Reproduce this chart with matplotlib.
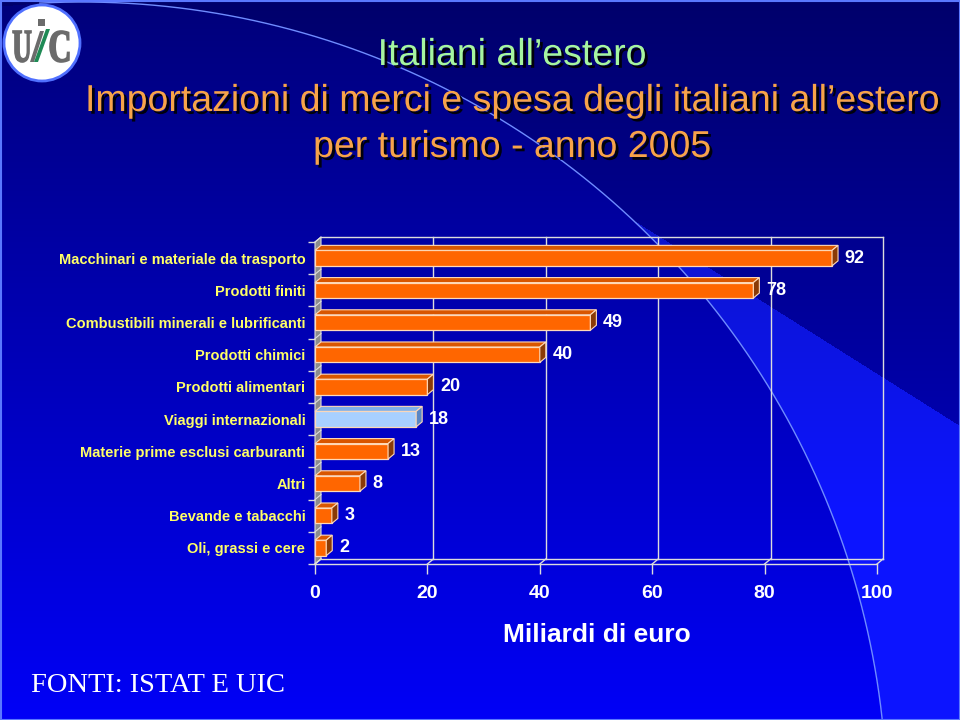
import matplotlib
matplotlib.use("Agg")
import matplotlib.pyplot as plt
import matplotlib.patheffects as pe
from matplotlib.patches import Polygon, Circle, Rectangle, PathPatch
from matplotlib.textpath import TextPath
from matplotlib.font_manager import FontProperties
from matplotlib.transforms import Affine2D
from matplotlib import font_manager
import numpy as np

# -----------------------------
# Data
# -----------------------------
categories = [
    "Macchinari e materiale da trasporto",
    "Prodotti finiti",
    "Combustibili minerali e lubrificanti",
    "Prodotti chimici",
    "Prodotti alimentari",
    "Viaggi internazionali",
    "Materie prime esclusi carburanti",
    "Altri",
    "Bevande e tabacchi",
    "Oli, grassi e cere",
]
values = [92, 78, 49, 40, 20, 18, 13, 8, 3, 2]
highlight = "Viaggi internazionali"
x_ticks = [0, 20, 40, 60, 80, 100]

title_1 = "Italiani all\u2019estero"
title_2 = "Importazioni di merci e spesa degli italiani all\u2019estero"
title_3 = "per turismo - anno 2005"
x_label = "Miliardi di euro"
source = "FONTI: ISTAT E UIC"


def has_font(name):
    try:
        font_manager.findfont(name, fallback_to_default=False)
        return True
    except Exception:
        return False


NARROW = "Liberation Sans Narrow" if has_font("Liberation Sans Narrow") else "Liberation Sans"
SERIF = "Liberation Serif"

W, H = 960, 720
fig = plt.figure(figsize=(W / 100, H / 100), dpi=100)

# -----------------------------
# Slide background
# -----------------------------
bg = fig.add_axes([0, 0, 1, 1])
bg.set_xlim(0, W)
bg.set_ylim(H, 0)
bg.axis("off")

yy, xx = np.mgrid[0:H, 0:W]
blue = 122 + 125 * (yy / H)
img = np.zeros((H, W, 3))
img[..., 2] = blue
cx, cy, rad = 82, 807, 805
outside = (xx - cx) ** 2 + (yy - cy) ** 2 > rad ** 2
below = (yy > 228 + 0.63 * (xx - 646)) & (xx > 600)
dark = outside & ~below
img[dark, 2] = blue[dark] * 0.88
band = outside & below
img[band, 0] = 12
img[band, 1] = 20
img[band, 2] = np.minimum(blue[band] + 45, 255)
bg.imshow(img / 255, extent=(0, W, H, 0), aspect="auto", zorder=0)

theta = np.radians(np.linspace(-93, -3, 300))
bg.plot(cx + rad * np.cos(theta), cy + rad * np.sin(theta), color="#6f8cff", lw=1.0, zorder=1)
bg.add_patch(Rectangle((0.5, 0.5), W - 1, H - 1, fill=False, ec="#5a78ff", lw=1.5, zorder=2))


# logo
def glyph(ch, x, y, w, h, color):
    tp = TextPath((0, 0), ch, size=10, prop=FontProperties(family=SERIF, weight="bold"))
    ext = tp.get_extents()
    tr = (Affine2D().translate(-ext.x0, -ext.y0)
          .scale(w / ext.width, -h / ext.height).translate(x, y + h))
    bg.add_patch(PathPatch(tr.transform_path(tp), fc=color, ec=color, lw=1.2, zorder=4))


bg.add_patch(Circle((42, 43), 38, fc="white", ec="#5070ff", lw=2, zorder=3))
glyph("U", 13, 31, 18, 31, "#6b6b6b")
glyph("C", 50, 31, 19, 31, "#6b6b6b")
bg.add_patch(Rectangle((38, 19), 7, 7, fc="#6b6b6b", zorder=4))
bg.add_patch(Polygon([(30, 62), (34, 62), (44, 31), (40, 31)], closed=True, fc="#6b6b6b", zorder=4))
bg.add_patch(Polygon([(34, 62), (38, 62), (50, 29), (46, 29)], closed=True, fc="#1f8a55", zorder=4))

shadow = [pe.SimplePatchShadow(offset=(2, -2), shadow_rgbFace="black", alpha=0.9), pe.Normal()]
bg.text(512, 55, title_1, color="#a6f5a0", fontsize=27, family=NARROW,
        ha="center", va="center", path_effects=shadow, zorder=5)
bg.text(512, 101, title_2, color="#f7a34a", fontsize=27, family=NARROW,
        ha="center", va="center", path_effects=shadow, zorder=5)
bg.text(512, 147, title_3, color="#f7a34a", fontsize=27, family=NARROW,
        ha="center", va="center", path_effects=shadow, zorder=5)
bg.text(158, 686, source, color="white", fontsize=20.5, family=SERIF,
        ha="center", va="center", zorder=5)
bg.text(597, 635, x_label, color="white", fontsize=19, fontweight="bold", family=NARROW,
        ha="center", va="center", zorder=5)

# -----------------------------
# 3D bar chart
# -----------------------------
x0, x1, y_front_bottom, y_front_top = 315, 877, 564, 242
ax = fig.add_axes([x0 / W, (H - y_front_bottom) / H, (x1 - x0) / W,
                   (y_front_bottom - y_front_top) / H])
ax.patch.set_alpha(0)
for s in ax.spines.values():
    s.set_visible(False)

n = len(categories)
ypos = np.arange(n)[::-1]
ax.set_xlim(0, 100)
ax.set_ylim(-0.5, n - 0.5)

px_x = (x1 - x0) / 100
px_y = (y_front_bottom - y_front_top) / n
ddx = 6 / px_x
ddy = 5 / px_y
line_c = "#dcdcdc"

# left wall
ax.add_patch(Polygon([(0, -0.5), (ddx, -0.5 + ddy), (ddx, n - 0.5 + ddy), (0, n - 0.5)],
                     closed=True, fc="#8c8c8c", ec=line_c, lw=0.8, clip_on=False, zorder=1))
for b in np.arange(-0.5, n, 1):
    ax.plot([0, ddx], [b, b + ddy], color=line_c, lw=0.8, clip_on=False, zorder=1)

# back wall grid and frame
for t in x_ticks[1:]:
    ax.plot([t + ddx, t + ddx], [-0.5 + ddy, n - 0.5 + ddy], color=line_c, lw=1, clip_on=False, zorder=1)
ax.plot([ddx, 100 + ddx], [n - 0.5 + ddy] * 2, color=line_c, lw=1, clip_on=False, zorder=1)

# floor
ax.plot([0, 100], [-0.5, -0.5], color=line_c, lw=1, clip_on=False, zorder=1)
ax.plot([ddx, 100 + ddx], [-0.5 + ddy] * 2, color=line_c, lw=1, clip_on=False, zorder=1)
for t in x_ticks:
    ax.plot([t, t + ddx], [-0.5, -0.5 + ddy], color=line_c, lw=1, clip_on=False, zorder=1)

# bars
h = 0.48
front_c = ["#a8d0ff" if c == highlight else "#ff6600" for c in categories]
top_c = ["#7fb0e8" if c == highlight else "#d95600" for c in categories]
side_c = ["#5a86c4" if c == highlight else "#8a3a06" for c in categories]
edge_c = "#ffd9b8"
ax.barh(ypos, values, height=h, color=front_c, edgecolor=edge_c, linewidth=0.9,
        clip_on=False, zorder=3)
for y, v, tc, sc in zip(ypos, values, top_c, side_c):
    ax.add_patch(Polygon([(0, y + h / 2), (v, y + h / 2), (v + ddx, y + h / 2 + ddy), (ddx, y + h / 2 + ddy)],
                         closed=True, fc=tc, ec=edge_c, lw=0.8, clip_on=False, zorder=3))
    ax.add_patch(Polygon([(v, y - h / 2), (v, y + h / 2), (v + ddx, y + h / 2 + ddy), (v + ddx, y - h / 2 + ddy)],
                         closed=True, fc=sc, ec=edge_c, lw=0.8, clip_on=False, zorder=3))
    ax.text(v + ddx + 1.2, y, str(v), color="white", fontsize=13, fontweight="bold",
            family=NARROW, ha="left", va="center", zorder=4)

# axes ticks
ax.set_yticks(ypos, labels=categories)
ax.set_yticks(np.arange(-0.5, n, 1), minor=True)
ax.tick_params(axis="y", which="major", length=0, pad=7, labelcolor="#ffff66")
ax.tick_params(axis="y", which="minor", length=5, color=line_c, width=1)
for lab in ax.get_yticklabels():
    lab.set_family(NARROW)
    lab.set_fontweight("bold")
    lab.set_fontsize(10.5)

ax.set_xticks(x_ticks, labels=[str(t) for t in x_ticks])
ax.tick_params(axis="x", length=7, color=line_c, width=1, pad=8, labelcolor="white")
for lab in ax.get_xticklabels():
    lab.set_family(NARROW)
    lab.set_fontweight("bold")
    lab.set_fontsize(14)

fig.savefig("out.png", dpi=100)
plt.close(fig)
